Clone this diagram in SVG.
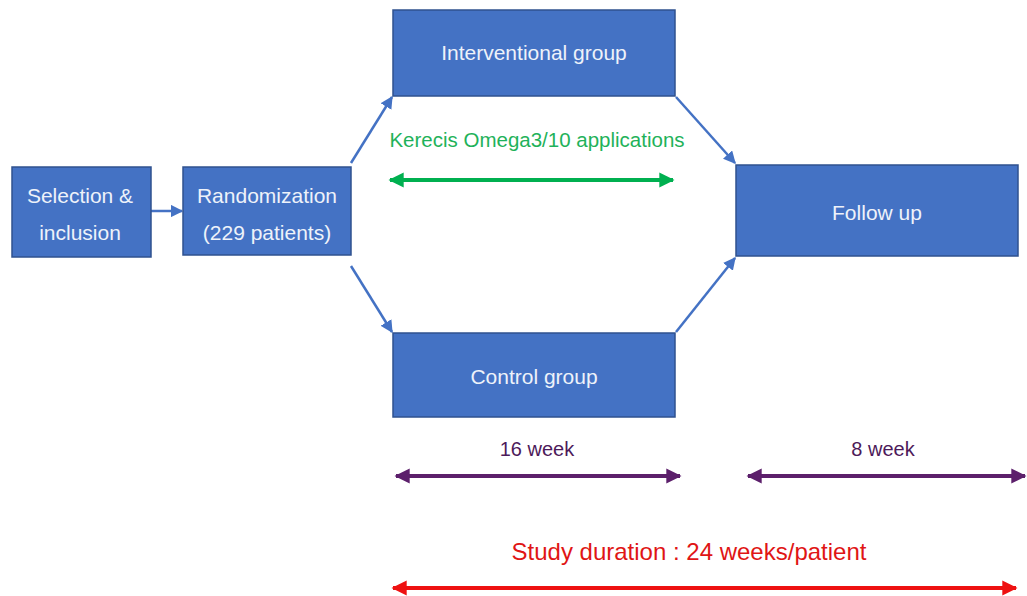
<svg xmlns="http://www.w3.org/2000/svg" width="1027" height="596" viewBox="0 0 1027 596">
<style>
.box{fill:#4472c4;stroke:#2f528f;stroke-width:1.5}
.bt{font-family:"Liberation Sans",Arial,sans-serif;font-size:21px;fill:#eef2fa;text-anchor:middle}
.conn{stroke:#4472c4;stroke-width:2.5;fill:none;marker-end:url(#ab)}
.lbl{font-family:"Liberation Sans",Arial,sans-serif;text-anchor:middle}
</style>
<defs>
<marker id="ab" viewBox="0 0 10 10" refX="9" refY="5" markerWidth="5" markerHeight="5" orient="auto" markerUnits="strokeWidth"><path d="M0,0 L10,5 L0,10 z" fill="#4472c4"/></marker>
<marker id="ag" viewBox="0 0 10 10" refX="9" refY="5" markerWidth="3.8" markerHeight="3.8" orient="auto-start-reverse" markerUnits="strokeWidth"><path d="M0,0 L10,5 L0,10 z" fill="#00b050"/></marker>
<marker id="ap" viewBox="0 0 10 10" refX="9" refY="5" markerWidth="3.8" markerHeight="3.8" orient="auto-start-reverse" markerUnits="strokeWidth"><path d="M0,0 L10,5 L0,10 z" fill="#5c1f6b"/></marker>
<marker id="ar" viewBox="0 0 10 10" refX="9" refY="5" markerWidth="3.8" markerHeight="3.8" orient="auto-start-reverse" markerUnits="strokeWidth"><path d="M0,0 L10,5 L0,10 z" fill="#ee1111"/></marker>
</defs>
<rect width="1027" height="596" fill="#ffffff"/>
<g id="connectors">
<line class="conn" x1="151" y1="211" x2="182" y2="211"/>
<line class="conn" x1="351" y1="163" x2="392" y2="97"/>
<line class="conn" x1="351" y1="266" x2="392" y2="332"/>
<line class="conn" x1="676" y1="97" x2="735" y2="163"/>
<line class="conn" x1="676" y1="332" x2="735" y2="258"/>
</g>
<g id="selection"><rect class="box" x="12" y="167" width="139" height="90"/><text class="bt" x="80" y="203">Selection &amp;</text><text class="bt" x="80" y="240">inclusion</text></g>
<g id="randomization"><rect class="box" x="183" y="167" width="168" height="88"/><text class="bt" x="267" y="203">Randomization</text><text class="bt" x="267" y="240">(229 patients)</text></g>
<g id="interventional"><rect class="box" x="393" y="10" width="282" height="86"/><text class="bt" x="534" y="60">Interventional group</text></g>
<g id="control"><rect class="box" x="393" y="333" width="282" height="84"/><text class="bt" x="534" y="384">Control group</text></g>
<g id="followup"><rect class="box" x="736" y="165" width="282" height="91"/><text class="bt" x="877" y="220">Follow up</text></g>
<g id="kerecis"><text class="lbl" x="537" y="147" font-size="20.5" fill="#1fb25a">Kerecis Omega3/10 applications</text>
<line x1="390" y1="180" x2="673" y2="180" stroke="#00b050" stroke-width="4" marker-start="url(#ag)" marker-end="url(#ag)"/></g>
<g id="week16"><text class="lbl" x="537" y="456" font-size="20" fill="#4d1a5a">16 week</text>
<line x1="396" y1="476" x2="680" y2="476" stroke="#5c1f6b" stroke-width="4" marker-start="url(#ap)" marker-end="url(#ap)"/></g>
<g id="week8"><text class="lbl" x="883" y="456" font-size="20" fill="#4d1a5a">8 week</text>
<line x1="748" y1="476" x2="1025" y2="476" stroke="#5c1f6b" stroke-width="4" marker-start="url(#ap)" marker-end="url(#ap)"/></g>
<g id="study"><text class="lbl" x="689" y="560" font-size="24" fill="#e01515">Study duration :  24 weeks/patient</text>
<line x1="393" y1="588" x2="1016" y2="588" stroke="#ee1111" stroke-width="4" marker-start="url(#ar)" marker-end="url(#ar)"/></g>
</svg>
